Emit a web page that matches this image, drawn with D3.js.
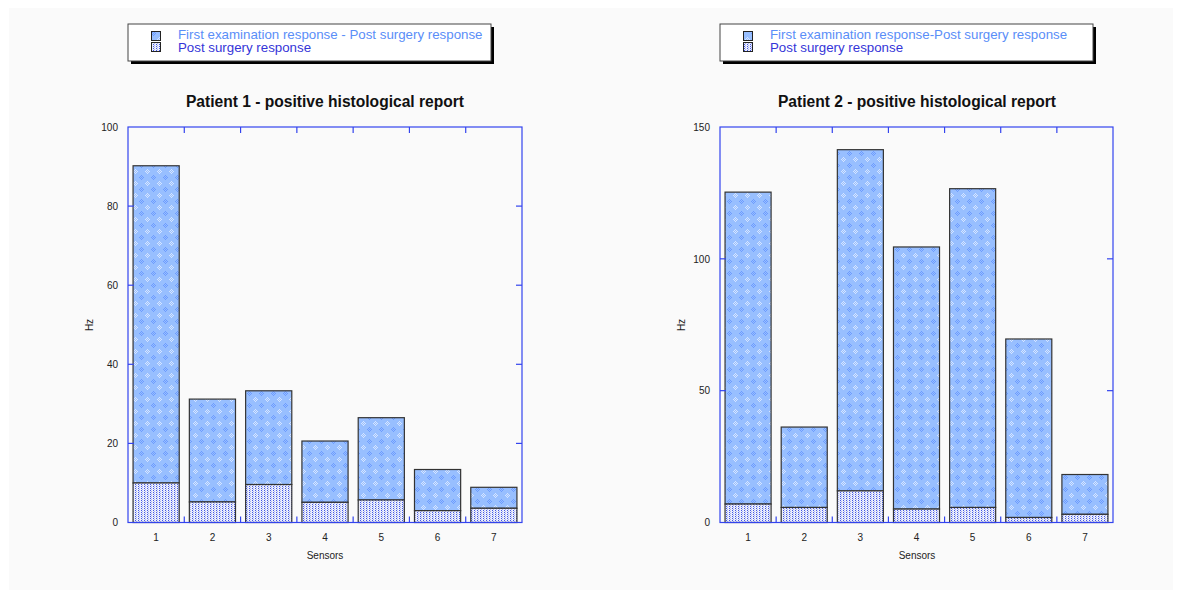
<!DOCTYPE html>
<html><head><meta charset="utf-8">
<script src="https://cdn.jsdelivr.net/npm/d3@7"></script>
<style>body{margin:0;background:#fff;}svg{display:block;font-family:"Liberation Sans",Arial,sans-serif;}</style>
</head><body>
<svg id="c" width="1183" height="596"></svg>
<script>
const sensors = ["1","2","3","4","5","6","7"];
const p1Total = [90.2, 31.2, 33.3, 20.6, 26.5, 13.4, 8.9];
const p1Post  = [10.0, 5.2, 9.6, 5.1, 5.7, 3.0, 3.6];
const p2Total = [125.3, 36.2, 141.4, 104.5, 126.6, 69.6, 18.2];
const p2Post  = [7.0, 5.7, 12.0, 5.1, 5.7, 1.9, 3.1];
const p1Ticks = [0,20,40,60,80,100];
const p2Ticks = [0,50,100,150];
const titles = ["Patient 1 - positive histological report","Patient 2 - positive histological report"];
const legend1 = ["First examination response - Post surgery response","Post surgery response"];
const legend2 = ["First examination response-Post surgery response","Post surgery response"];

const svg = d3.select("#c");
svg.append("rect").attr("x",9).attr("y",8).attr("width",1164).attr("height",582).attr("fill","#fafafa");

const defs = svg.append("defs");
const pt = defs.append("pattern").attr("id","pTop").attr("patternUnits","userSpaceOnUse").attr("width",12).attr("height",12);
pt.append("rect").attr("width",12).attr("height",12).attr("fill","#98bfff");
[[2,2],[4,2],[3,3],[2,4],[4,4],[3,1],[1,3],[5,3],[3,5]].forEach(([a,b])=>{
  pt.append("rect").attr("x",a).attr("y",b).attr("width",1).attr("height",1).attr("fill","#ffffff").attr("opacity",0.6);
});
[[8,8],[10,8],[9,9],[8,10],[10,10],[9,7],[7,9],[11,9],[9,11]].forEach(([a,b])=>{
  pt.append("rect").attr("x",a).attr("y",b).attr("width",1).attr("height",1).attr("fill","#5a8cff").attr("opacity",0.7);
});
const pb = defs.append("pattern").attr("id","pBot").attr("patternUnits","userSpaceOnUse").attr("width",3).attr("height",2);
pb.append("rect").attr("width",3).attr("height",2).attr("fill","#eceefb");
pb.append("rect").attr("x",0).attr("y",0).attr("width",1).attr("height",1).attr("fill","#4258e6");
pb.append("rect").attr("x",1).attr("y",1).attr("width",1).attr("height",1).attr("fill","#aab4f2");

const axisCol = "#3344ee";

function panel(x0, x1, total, post, ticks, title, legendTxt, legendBox, cx) {
  const y0 = 522.5, yTop = 127;
  const x = d3.scaleBand().domain(sensors).range([x0,x1]).paddingInner(0.18).paddingOuter(0.09);
  const y = d3.scaleLinear().domain([0, d3.max(ticks)]).range([y0, yTop]);
  const g = svg.append("g");

  const [lx, ly, lw, lh] = legendBox;
  g.append("rect").attr("x",lx+3).attr("y",ly+3).attr("width",lw).attr("height",lh).attr("fill","#000");
  g.append("rect").attr("x",lx).attr("y",ly).attr("width",lw).attr("height",lh).attr("fill","#fff").attr("stroke","#444").attr("stroke-width",1);
  g.append("rect").attr("x",lx+23.5).attr("y",ly+7.5).attr("width",9).attr("height",9).attr("fill","url(#pTop)").attr("stroke","#222");
  g.append("rect").attr("x",lx+23.5).attr("y",ly+18.5).attr("width",9).attr("height",9).attr("fill","url(#pBot)").attr("stroke","#222");
  g.append("text").attr("x",lx+50).attr("y",ly+15).attr("font-size",13.3).attr("fill","#5a8ef8").text(legendTxt[0]);
  g.append("text").attr("x",lx+50).attr("y",ly+28.3).attr("font-size",13.3).attr("fill","#3535d8").text(legendTxt[1]);

  g.append("text").attr("x",cx).attr("y",107).attr("text-anchor","middle").attr("font-size",15.6).attr("font-weight","bold").attr("fill","#111").text(title);

  sensors.forEach((s,i)=>{
    g.append("rect").attr("x",x(s)).attr("y",y(total[i])).attr("width",x.bandwidth()).attr("height",y(post[i])-y(total[i]))
      .attr("fill","url(#pTop)").attr("stroke","#333").attr("stroke-width",1.2);
    g.append("rect").attr("x",x(s)).attr("y",y(post[i])).attr("width",x.bandwidth()).attr("height",y0-y(post[i]))
      .attr("fill","url(#pBot)").attr("stroke","#333").attr("stroke-width",1.2);
  });

  g.append("rect").attr("x",x0).attr("y",yTop).attr("width",x1-x0).attr("height",y0-yTop).attr("fill","none").attr("stroke",axisCol).attr("stroke-width",1.2);

  const yAx = d3.axisLeft(y).tickValues(ticks).tickSize(0).tickPadding(10);
  const ya = g.append("g").attr("transform",`translate(${x0},0)`).call(yAx);
  ya.select(".domain").remove();
  ya.selectAll("text").attr("font-size",10).attr("fill","#222").attr("font-family","Liberation Sans, Arial, sans-serif");
  ticks.slice(1,-1).forEach(t=>{
    g.append("line").attr("x1",x0).attr("x2",x0+6).attr("y1",y(t)).attr("y2",y(t)).attr("stroke",axisCol).attr("stroke-width",1.2);
    g.append("line").attr("x1",x1).attr("x2",x1-6).attr("y1",y(t)).attr("y2",y(t)).attr("stroke",axisCol).attr("stroke-width",1.2);
  });
  const xAx = d3.axisBottom(x).tickSize(0).tickPadding(11);
  const xa = g.append("g").attr("transform",`translate(0,${y0})`).call(xAx);
  xa.select(".domain").remove();
  xa.selectAll("text").attr("font-size",10).attr("fill","#222").attr("font-family","Liberation Sans, Arial, sans-serif");
  sensors.slice(1).forEach(s=>{
    const bx = x(s) - x.step()*x.paddingInner()/2;
    g.append("line").attr("x1",bx).attr("x2",bx).attr("y1",y0).attr("y2",y0-6).attr("stroke",axisCol).attr("stroke-width",1.2);
    g.append("line").attr("x1",bx).attr("x2",bx).attr("y1",yTop).attr("y2",yTop+6).attr("stroke",axisCol).attr("stroke-width",1.2);
  });
  g.append("text").attr("x",cx).attr("y",559).attr("text-anchor","middle").attr("font-size",10).attr("fill","#222").text("Sensors");
  g.append("text").attr("transform",`translate(${x0-35},325) rotate(-90)`).attr("text-anchor","middle").attr("font-size",10).attr("fill","#222").text("Hz");
}

panel(128, 522, p1Total, p1Post, p1Ticks, titles[0], legend1, [128,24,363,37], 325);
panel(720, 1113, p2Total, p2Post, p2Ticks, titles[1], legend2, [720,24,373,37], 917);
</script>
</body></html>
